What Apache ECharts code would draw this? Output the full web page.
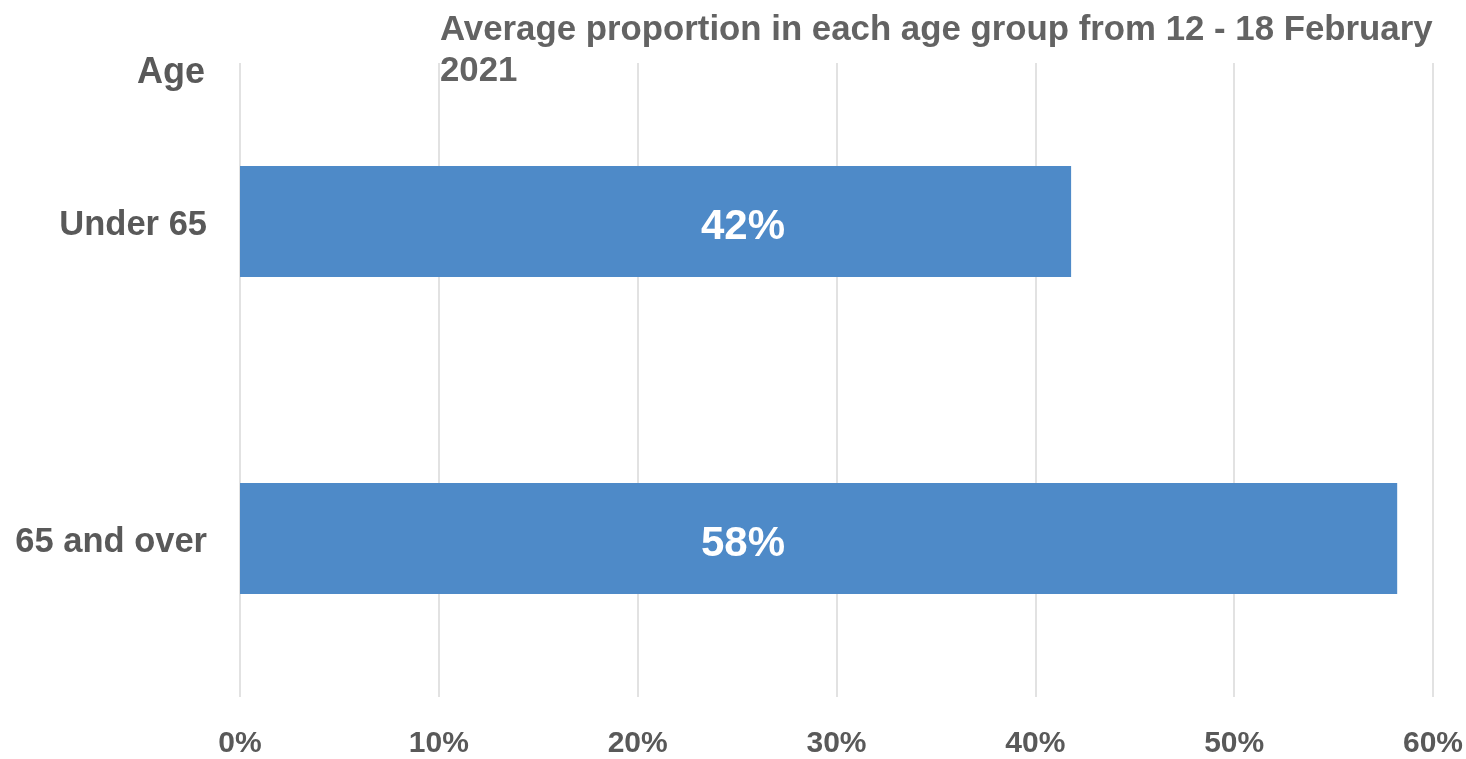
<!DOCTYPE html>
<html>
<head>
<meta charset="utf-8">
<script src="https://cdn.jsdelivr.net/npm/echarts@6/dist/echarts.min.js"></script>
<style>
html,body{margin:0;padding:0;background:#fff;}
#main{width:1466px;height:759px;}
</style>
</head>
<body>
<div id="main"></div>
<script>
var categories = ['Under 65', '65 and over'];
var proportions = [41.8, 58.2];
var xTicks = [0, 10, 20, 30, 40, 50, 60];
var titleText = 'Average proportion in each age group from 12 - 18 February\n2021';
var axisTitle = 'Age';

var chart = echarts.init(document.getElementById('main'));
var font = '"Liberation Sans", Arial, sans-serif';
chart.setOption({
  backgroundColor: '#ffffff',
  animation: false,
  title: [
    { text: titleText, left: 435, top: 5,
      textStyle: { fontFamily: font, fontWeight: 'bold', fontSize: 34.8, lineHeight: 41, color: '#636363' } },
    { text: axisTitle, left: 132, top: 48,
      textStyle: { fontFamily: font, fontWeight: 'bold', fontSize: 36, lineHeight: 40, color: '#595959' } }
  ],
  grid: { left: 240, right: 32, top: 63, bottom: 58, containLabel: false },
  xAxis: {
    type: 'value', min: xTicks[0], max: xTicks[xTicks.length - 1], interval: 10,
    axisLine: { show: false }, axisTick: { show: false },
    splitLine: { show: true, lineStyle: { color: '#d9d9d9', width: 1.5 } },
    axisLabel: { formatter: '{value}%', margin: 32, fontFamily: font, fontWeight: 'bold', fontSize: 30, color: '#595959' }
  },
  yAxis: {
    type: 'category', data: categories, inverse: true,
    axisLine: { show: false }, axisTick: { show: false }, splitLine: { show: false },
    axisLabel: { margin: 33, verticalAlign: 'top', lineHeight: 8, fontFamily: font, fontWeight: 'bold', fontSize: 34.5, color: '#595959' }
  },
  series: [{
    type: 'bar', data: proportions, barWidth: '35%',
    itemStyle: { color: '#4e8ac8' },
    label: {
      show: true, position: [503, '50%'], offset: [0, 6], align: 'center', verticalAlign: 'middle',
      formatter: function (p) { return Math.round(p.value) + '%'; },
      fontFamily: font, fontWeight: 'bold', fontSize: 42, color: '#ffffff'
    }
  }]
});
</script>
</body>
</html>
